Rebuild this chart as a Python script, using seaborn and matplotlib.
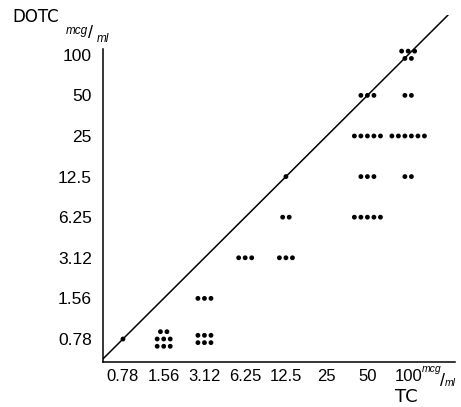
import numpy as np
import pandas as pd
import matplotlib
matplotlib.use("Agg")
import matplotlib.pyplot as plt
import seaborn as sns

# MIC values (mcg/ml), twofold dilution series
levels = ['0.78', '1.56', '3.12', '6.25', '12.5', '25', '50', '100']

# each cluster: TC MIC, DOTC MIC, dots per row (top to bottom)
tc_mic = ['0.78', '1.56', '3.12', '3.12', '6.25', '12.5', '12.5', '12.5',
          '50', '50', '50', '50', '100', '100', '100', '100']
dotc_mic = ['0.78', '0.78', '0.78', '1.56', '3.12', '3.12', '6.25', '12.5',
            '6.25', '12.5', '25', '50', '12.5', '25', '50', '100']
rows = [[1], [2, 3, 3], [3, 3], [3], [3], [3], [2], [1],
        [5], [3], [5], [3], [2], [6], [2], [3, 2]]

# spread the strains of one cluster into a small grid of dots
recs = []
dx, dy = 0.16, 0.18
for t, d, r in zip(tc_mic, dotc_mic, rows):
    xi = levels.index(t)
    yi = levels.index(d)
    nr = len(r)
    for k, n in enumerate(r):
        yy = yi + ((nr - 1) / 2 - k) * dy
        for m in range(n):
            recs.append({'x': xi + (m - (n - 1) / 2) * dx, 'y': yy})
df = pd.DataFrame(recs)

sns.set_theme(style="white")
plt.rcParams['font.family'] = ['Liberation Sans', 'DejaVu Sans']
plt.rcParams['text.color'] = 'black'
plt.rcParams['xtick.color'] = 'black'
plt.rcParams['ytick.color'] = 'black'

fig = plt.figure(figsize=(4.61, 4.07), dpi=100)
ax = fig.add_axes([103 / 461, 45 / 407, 352 / 461, 347 / 407])

sns.scatterplot(data=df, x='x', y='y', color='black', s=12, edgecolor='none', ax=ax)
ax.axline((0, 0), (4, 4), color='black', lw=1.1)

ax.set_xlim(-0.49, 8.15)
ax.set_ylim(-0.567, 7.98)
ax.set_xticks(range(len(levels)))
ax.set_xticklabels(levels, fontsize=12)
ax.set_yticks(range(len(levels)))
ax.set_yticklabels(levels, fontsize=12.5)
ax.tick_params(axis='both', length=0)
ax.tick_params(axis='x', pad=5)
ax.tick_params(axis='y', pad=8)
ax.set_xlabel('')
ax.set_ylabel('')

for s in ['top', 'right']:
    ax.spines[s].set_visible(False)
for s in ['left', 'bottom']:
    ax.spines[s].set_color('black')
    ax.spines[s].set_linewidth(1.1)
ax.spines['left'].set_bounds(-0.567, 7.14)

# hand-lettered axis titles
title_font = ['DejaVu Sans']
fig.text(12 / 461, 1 - 22 / 407, 'DOTC', fontsize=12, family=title_font, va='baseline')
fig.text(66 / 461, 1 - 34 / 407, 'mcg', fontsize=8.5, style='italic', va='baseline')
fig.text(88 / 461, 1 - 38 / 407, '/', fontsize=13, va='baseline')
fig.text(97 / 461, 1 - 42 / 407, 'ml', fontsize=8.5, style='italic', va='baseline')

fig.text(395 / 461, 1 - 402 / 407, 'TC', fontsize=13, family=title_font, va='baseline')
fig.text(422 / 461, 1 - 372 / 407, 'mcg', fontsize=7.5, style='italic', va='baseline')
fig.text(440 / 461, 1 - 386 / 407, '/', fontsize=13, va='baseline')
fig.text(445 / 461, 1 - 386 / 407, 'ml', fontsize=7.5, style='italic', va='baseline')

fig.savefig('out.png', dpi=100)
